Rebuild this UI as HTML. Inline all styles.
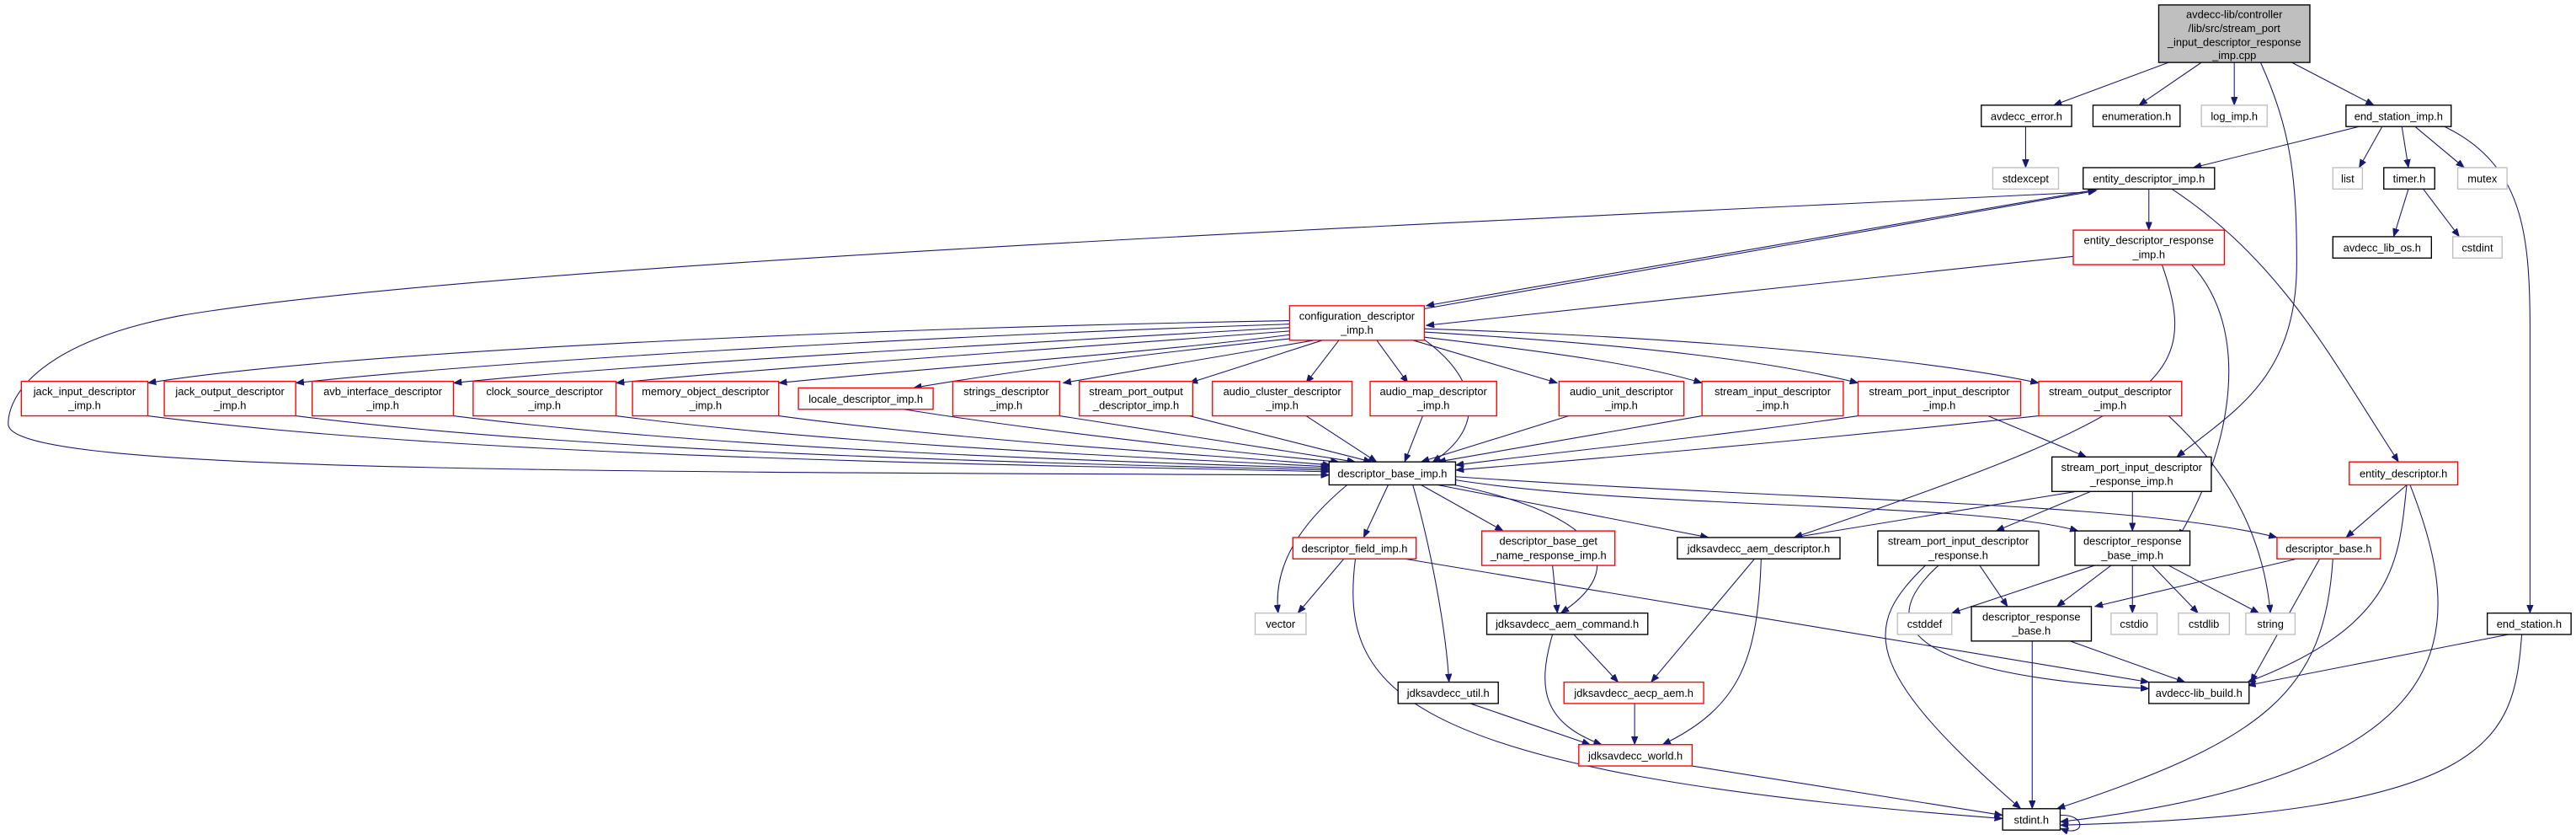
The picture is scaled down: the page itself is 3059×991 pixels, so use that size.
<!DOCTYPE html>
<html><head><meta charset="utf-8"><style>
html,body{margin:0;padding:0;background:#fff;}
svg{display:block;}
text{font-family:"Liberation Sans",sans-serif;font-size:6.6px;fill:#000;text-anchor:middle;}
.n{fill:#fff;stroke:#000;stroke-width:0.7;}
.r{fill:#fff;stroke:#ff0000;stroke-width:0.7;}
.g{fill:#fff;stroke:#bfbfbf;stroke-width:0.7;}
.e{fill:none;stroke:#191970;stroke-width:0.55;}
</style></head><body>
<svg width="3059" height="991" viewBox="0 0 1568 508" preserveAspectRatio="none" xmlns="http://www.w3.org/2000/svg">
<defs><marker id="a" markerWidth="5" markerHeight="4" refX="5" refY="2" orient="auto" markerUnits="userSpaceOnUse"><path d="M0,0 L5,2 L0,4 z" fill="#191970" stroke="#191970" stroke-width="0.3"/></marker></defs>
<g class="e" marker-end="url(#a)">
<path d="M1320,38 L1250,64"/>
<path d="M1340,38 L1302,64"/>
<path d="M1360,38 L1360,64"/>
<path d="M1395,38 L1445,64"/>
<path d="M1376,38 C1395,80 1398,110 1398,160 C1398,230 1360,250 1325,278"/>
<path d="M1233,77 L1233,102"/>
<path d="M1436,77 L1335,102"/>
<path d="M1450,77 L1436,102"/>
<path d="M1462,77 L1466,102"/>
<path d="M1470,77 L1500,102"/>
<path d="M1488,77 C1535,100 1540,140 1540,200 L1540,373"/>
<path d="M1466,115 L1457,144"/>
<path d="M1475,115 L1497,144"/>
<path d="M1308,115 L1308,140"/>
<path d="M1278,115 L868,186"/>
<path d="M866,188 L1276,116"/>
<path d="M1268,117 C900,135 300,160 110,192 C25,208 5,240 5,258 C5,286 300,287 809,289"/>
<path d="M1322,115 C1390,160 1420,220 1460,281"/>
<path d="M1262,156 L868,198"/>
<path d="M1316,161 C1340,230 1320,250 1092,327"/>
<path d="M1334,161 C1370,200 1360,270 1326,327"/>
<path d="M790,195 C500,200 200,215 90,233"/>
<path d="M790,197 C550,205 300,220 180,233"/>
<path d="M790,199 C600,210 380,222 276,233"/>
<path d="M790,201 C650,212 450,225 375,233"/>
<path d="M790,203 C700,215 550,225 474,233"/>
<path d="M795,205 C700,215 620,225 556,236"/>
<path d="M800,207 L647,233"/>
<path d="M805,207 L724,233"/>
<path d="M815,207 L795,233"/>
<path d="M838,207 L857,233"/>
<path d="M860,207 L948,233"/>
<path d="M866,205 C950,215 1000,222 1036,233"/>
<path d="M867,202 C1000,210 1080,220 1131,233"/>
<path d="M867,200 C1050,206 1180,220 1241,233"/>
<path d="M866,206 C900,230 905,260 872,281"/>
<path d="M90,253 C300,280 650,283 809,287"/>
<path d="M180,253 C380,278 700,283 809,286"/>
<path d="M276,253 C450,275 720,282 809,285"/>
<path d="M375,253 C520,272 740,280 809,284"/>
<path d="M474,253 C600,270 760,278 810,283"/>
<path d="M550,249 C650,265 780,278 815,281"/>
<path d="M645,253 L825,281"/>
<path d="M724,253 L835,281"/>
<path d="M795,253 L838,281"/>
<path d="M866,253 L855,281"/>
<path d="M955,253 L865,281"/>
<path d="M1036,253 L875,281"/>
<path d="M1131,253 C1050,265 920,278 886,283"/>
<path d="M1241,253 C1100,268 960,280 886,286"/>
<path d="M1210,253 L1270,278"/>
<path d="M1320,253 C1360,290 1378,330 1382,373"/>
<path d="M1270,298 L1092,327"/>
<path d="M1275,298 L1215,323"/>
<path d="M1298,298 L1298,323"/>
<path d="M820,295 C790,320 775,345 778,373"/>
<path d="M845,295 L830,327"/>
<path d="M860,295 C870,330 880,380 882,415"/>
<path d="M865,295 L915,323"/>
<path d="M875,295 L1040,327"/>
<path d="M885,295 C960,310 1000,340 950,373"/>
<path d="M886,292 C1000,310 1200,305 1265,323"/>
<path d="M886,290 C1100,305 1300,305 1386,327"/>
<path d="M818,340 L790,373"/>
<path d="M825,340 C815,420 850,470 1219,498"/>
<path d="M855,340 L1308,415"/>
<path d="M945,344 L948,373"/>
<path d="M1068,340 L1005,415"/>
<path d="M1072,340 C1070,400 1060,430 1012,453"/>
<path d="M1172,344 C1135,380 1130,405 1230,492"/>
<path d="M1180,344 C1140,380 1160,410 1308,419"/>
<path d="M1205,344 L1222,369"/>
<path d="M1275,344 L1188,373"/>
<path d="M1285,344 L1252,369"/>
<path d="M1298,344 L1298,373"/>
<path d="M1310,344 L1338,373"/>
<path d="M1320,344 L1375,373"/>
<path d="M1398,340 L1275,369"/>
<path d="M1412,340 L1370,415"/>
<path d="M1420,340 C1415,420 1380,450 1252,492"/>
<path d="M1465,295 L1428,327"/>
<path d="M1465,295 C1460,340 1460,380 1368,415"/>
<path d="M1467,295 C1500,380 1510,470 1254,500"/>
<path d="M1260,390 L1330,415"/>
<path d="M1237,390 L1237,492"/>
<path d="M1527,386 L1368,417"/>
<path d="M1535,386 C1530,450 1520,495 1254,502"/>
<path d="M945,386 C935,420 940,440 975,453"/>
<path d="M958,386 L985,415"/>
<path d="M895,428 L968,453"/>
<path d="M995,428 L995,453"/>
<path d="M1030,466 L1219,496"/>
<path d="M1254,496 C1270,495 1270,510 1254,504"/>
</g>
<rect x="1314" y="3" width="92" height="35" fill="#bfbfbf" stroke="#000" stroke-width="0.7"/>
<text x="1360" y="11">avdecc-lib/controller</text><text x="1360" y="19.5">/lib/src/stream_port</text><text x="1360" y="28">_input_descriptor_response</text><text x="1360" y="36">_imp.cpp</text>
<rect class="n" x="1206" y="64" width="55" height="13"/><text x="1233.5" y="73">avdecc_error.h</text>
<rect class="n" x="1274" y="64" width="53" height="13"/><text x="1300.5" y="73">enumeration.h</text>
<rect class="g" x="1340" y="64" width="40" height="13"/><text x="1360" y="73">log_imp.h</text>
<rect class="n" x="1428" y="64" width="64" height="13"/><text x="1460" y="73">end_station_imp.h</text>
<rect class="g" x="1213" y="102" width="40" height="13"/><text x="1233" y="111">stdexcept</text>
<rect class="n" x="1268" y="102" width="80" height="13"/><text x="1308" y="111">entity_descriptor_imp.h</text>
<rect class="g" x="1420" y="102" width="18" height="13"/><text x="1429" y="111">list</text>
<rect class="n" x="1451" y="102" width="31" height="13"/><text x="1466.5" y="111">timer.h</text>
<rect class="g" x="1496" y="102" width="30" height="13"/><text x="1511" y="111">mutex</text>
<rect class="r" x="1262" y="140" width="92" height="21"/><text x="1308" y="148.5">entity_descriptor_response</text><text x="1308" y="157">_imp.h</text>
<rect class="n" x="1420" y="144" width="60" height="13"/><text x="1450" y="153">avdecc_lib_os.h</text>
<rect class="g" x="1493" y="144" width="30" height="13"/><text x="1508" y="153">cstdint</text>
<rect class="r" x="785" y="186" width="82" height="21"/><text x="826" y="194.5">configuration_descriptor</text><text x="826" y="203">_imp.h</text>
<rect class="r" x="13" y="232" width="77" height="21"/><text x="51.5" y="240.5">jack_input_descriptor</text><text x="51.5" y="249">_imp.h</text>
<rect class="r" x="100" y="232" width="80" height="21"/><text x="140" y="240.5">jack_output_descriptor</text><text x="140" y="249">_imp.h</text>
<rect class="r" x="190" y="232" width="86" height="21"/><text x="233" y="240.5">avb_interface_descriptor</text><text x="233" y="249">_imp.h</text>
<rect class="r" x="288" y="232" width="87" height="21"/><text x="331.5" y="240.5">clock_source_descriptor</text><text x="331.5" y="249">_imp.h</text>
<rect class="r" x="385" y="232" width="89" height="21"/><text x="429.5" y="240.5">memory_object_descriptor</text><text x="429.5" y="249">_imp.h</text>
<rect class="r" x="486" y="236" width="82" height="13"/><text x="527" y="245">locale_descriptor_imp.h</text>
<rect class="r" x="580" y="232" width="65" height="21"/><text x="612.5" y="240.5">strings_descriptor</text><text x="612.5" y="249">_imp.h</text>
<rect class="r" x="657" y="232" width="69" height="21"/><text x="691.5" y="240.5">stream_port_output</text><text x="691.5" y="249">_descriptor_imp.h</text>
<rect class="r" x="738" y="232" width="85" height="21"/><text x="780.5" y="240.5">audio_cluster_descriptor</text><text x="780.5" y="249">_imp.h</text>
<rect class="r" x="834" y="232" width="77" height="21"/><text x="872.5" y="240.5">audio_map_descriptor</text><text x="872.5" y="249">_imp.h</text>
<rect class="r" x="949" y="232" width="76" height="21"/><text x="987" y="240.5">audio_unit_descriptor</text><text x="987" y="249">_imp.h</text>
<rect class="r" x="1036" y="232" width="86" height="21"/><text x="1079" y="240.5">stream_input_descriptor</text><text x="1079" y="249">_imp.h</text>
<rect class="r" x="1131" y="232" width="99" height="21"/><text x="1180.5" y="240.5">stream_port_input_descriptor</text><text x="1180.5" y="249">_imp.h</text>
<rect class="r" x="1241" y="232" width="87" height="21"/><text x="1284.5" y="240.5">stream_output_descriptor</text><text x="1284.5" y="249">_imp.h</text>
<rect class="n" x="809" y="281" width="77" height="14"/><text x="847.5" y="290.5">descriptor_base_imp.h</text>
<rect class="n" x="1249" y="278" width="97" height="21"/><text x="1297.5" y="286.5">stream_port_input_descriptor</text><text x="1297.5" y="295">_response_imp.h</text>
<rect class="r" x="1430" y="281" width="66" height="14"/><text x="1463" y="290.5">entity_descriptor.h</text>
<rect class="r" x="787" y="327" width="75" height="13"/><text x="824.5" y="336">descriptor_field_imp.h</text>
<rect class="r" x="902" y="323" width="81" height="21"/><text x="942.5" y="331.5">descriptor_base_get</text><text x="942.5" y="340">_name_response_imp.h</text>
<rect class="n" x="1021" y="327" width="99" height="13"/><text x="1070.5" y="336">jdksavdecc_aem_descriptor.h</text>
<rect class="n" x="1143" y="323" width="98" height="21"/><text x="1192" y="331.5">stream_port_input_descriptor</text><text x="1192" y="340">_response.h</text>
<rect class="n" x="1263" y="323" width="70" height="21"/><text x="1298" y="331.5">descriptor_response</text><text x="1298" y="340">_base_imp.h</text>
<rect class="r" x="1386" y="327" width="63" height="13"/><text x="1417.5" y="336">descriptor_base.h</text>
<rect class="g" x="764" y="373" width="31" height="13"/><text x="779.5" y="382">vector</text>
<rect class="n" x="905" y="373" width="98" height="13"/><text x="954" y="382">jdksavdecc_aem_command.h</text>
<rect class="g" x="1155" y="373" width="33" height="13"/><text x="1171.5" y="382">cstddef</text>
<rect class="n" x="1200" y="369" width="73" height="21"/><text x="1236.5" y="377.5">descriptor_response</text><text x="1236.5" y="386">_base.h</text>
<rect class="g" x="1285" y="373" width="28" height="13"/><text x="1299" y="382">cstdio</text>
<rect class="g" x="1326" y="373" width="31" height="13"/><text x="1341.5" y="382">cstdlib</text>
<rect class="g" x="1367" y="373" width="30" height="13"/><text x="1382" y="382">string</text>
<rect class="n" x="1514" y="373" width="51" height="13"/><text x="1539.5" y="382">end_station.h</text>
<rect class="n" x="851" y="415" width="61" height="13"/><text x="881.5" y="424">jdksavdecc_util.h</text>
<rect class="r" x="952" y="415" width="85" height="13"/><text x="994.5" y="424">jdksavdecc_aecp_aem.h</text>
<rect class="n" x="1308" y="415" width="61" height="13"/><text x="1338.5" y="424">avdecc-lib_build.h</text>
<rect class="r" x="961" y="453" width="69" height="13"/><text x="995.5" y="462">jdksavdecc_world.h</text>
<rect class="n" x="1219" y="492" width="35" height="13"/><text x="1236.5" y="501">stdint.h</text>
</svg>
</body></html>
